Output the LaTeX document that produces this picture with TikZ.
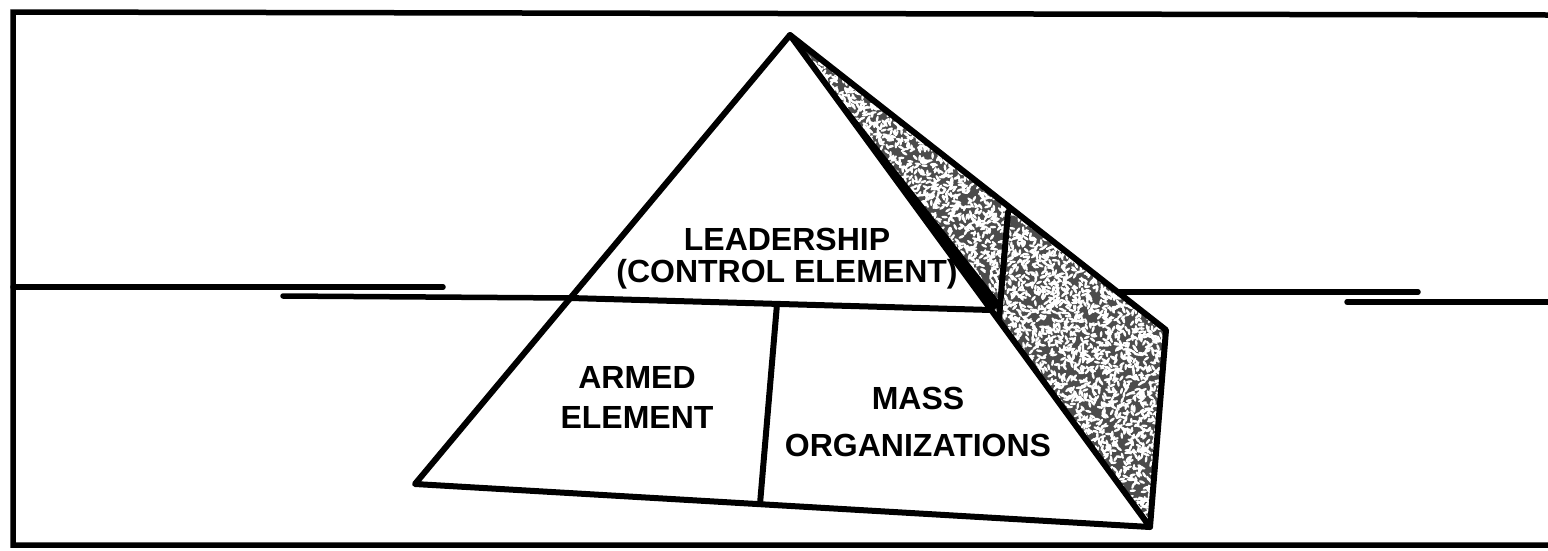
\documentclass[tikz,border=0pt]{standalone}
\usepackage{fontspec}
\setmainfont{Liberation Sans}
\usetikzlibrary{calc}
\begin{document}
\begin{tikzpicture}[x=1pt,y=-1pt,
  edge/.style={line width=6pt, line cap=round, line join=round},
  frame/.style={line width=5.5pt},
  water/.style={line width=5.5pt, line cap=round},
  txt/.style={align=center, inner sep=0pt, text=black}]
\useasboundingbox (0,0) rectangle (1548,550);
\fill[white] (0,0) rectangle (1548,550);
% frame
\draw[frame] (1548,15) -- (13,12) -- (13,545) -- (1548,545);
% pyramid points
\coordinate (A) at (790,35);
\coordinate (BL) at (415,484);
\coordinate (BR) at (1150,527);
\coordinate (RT) at (1166,330);
\coordinate (DL) at (570.4,298);
\coordinate (DR) at (991.2,310);
\coordinate (MT) at (777,304);
\coordinate (MB) at (760,504);
\coordinate (VT) at (1008,212);
\coordinate (VB) at (999,318);
% water line end points
\coordinate (LW1) at (13,287);
\coordinate (LW2) at (443,287);
\coordinate (LL1) at (283,296);
\coordinate (RW1) at (1118,292);
\coordinate (RW2) at (1418,292);
\coordinate (RL1) at (1347,302);
\coordinate (RL2) at (1548,302);
% shaded side face
\fill[black!70] (A) -- (RT) -- (BR) -- cycle;
\pgfmathsetseed{11}
\foreach \i in {1,...,2300} {
  \pgfmathsetmacro{\s}{sqrt(rnd)}
  \pgfmathsetmacro{\t}{rnd}
  \pgfmathsetmacro{\px}{790+\s*((1-\t)*376+\t*360)}
  \pgfmathsetmacro{\py}{35+\s*((1-\t)*295+\t*492)}
  \pgfmathsetmacro{\ang}{rnd*180}
  \fill[white, rotate around={\ang:(\px,\py)}] (\px,\py) ellipse (3.2 and 1.3);
}
\fill[black] (A) -- (DR) -- (1003,306) -- cycle;
% water lines
\draw[water] (LW1) -- (LW2);
\draw[water] (LL1) -- (DL);
\draw[water] (RW1) -- (RW2);
\draw[water] (RL1) -- (RL2);
% pyramid edges
\draw[edge] (A) -- (BL) -- (BR) -- cycle;
\draw[edge] (A) -- (RT) -- (BR);
\draw[edge] (DL) -- (DR);
\draw[edge] (MT) -- (MB);
\draw[edge] (VT) -- (VB);
% labels
\node[txt, font=\bfseries\fontsize{32}{32}\selectfont] (lead) at (787,259)
  {LEADERSHIP\\(CONTROL ELEMENT)};
\node[txt, font=\bfseries\fontsize{32}{40}\selectfont] (armed) at (637,397)
  {ARMED\\ELEMENT};
\node[txt, font=\bfseries\fontsize{32}{47}\selectfont] (mass) at (918,421.5)
  {MASS\\ORGANIZATIONS};
\end{tikzpicture}
\end{document}
